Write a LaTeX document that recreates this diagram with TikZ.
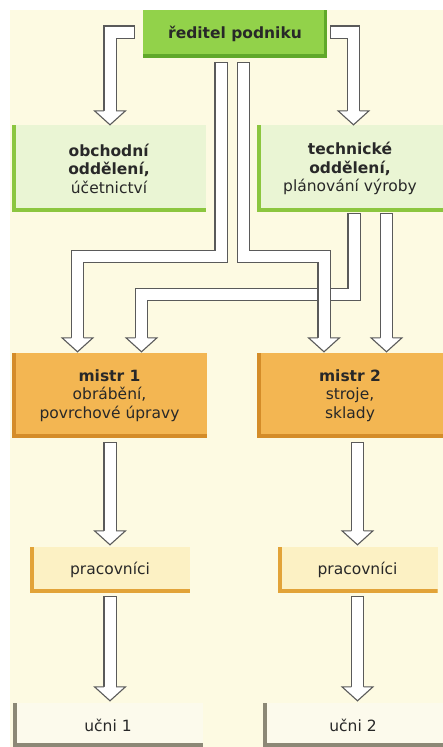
\documentclass[tikz,border=0pt]{standalone}
\usepackage{fontspec}
\setmainfont{DejaVu Sans}
\usetikzlibrary{calc}

\definecolor{paper}{RGB}{253,250,226}
\definecolor{ink}{RGB}{40,40,40}
\definecolor{arrowgray}{RGB}{90,90,90}
\definecolor{bossgreen}{RGB}{146,210,74}
\definecolor{bossshade}{RGB}{96,168,42}
\definecolor{deptfill}{RGB}{234,245,212}
\definecolor{deptbar}{RGB}{140,198,63}
\definecolor{masterfill}{RGB}{243,182,82}
\definecolor{masterbar}{RGB}{212,140,40}
\definecolor{crewfill}{RGB}{252,241,196}
\definecolor{crewbar}{RGB}{226,163,56}
\definecolor{traineefill}{RGB}{252,250,236}
\definecolor{traineebar}{RGB}{140,136,118}

\tikzset{bar/.style={path picture={
  \fill[#1] (path picture bounding box.north west) rectangle ([xshift=4pt]path picture bounding box.south west);
  \fill[#1] ([yshift=4.5pt]path picture bounding box.south west) rectangle (path picture bounding box.south east);}}}
\tikzstyle{unit} = [rectangle, inner sep=0pt, align=center, text=ink, font=\fontsize{15.5}{18.5}\selectfont]
\tikzstyle{chief} = [unit, fill=bossgreen, minimum width=184pt, minimum height=48pt, path picture={
  \fill[bossshade] ([yshift=4pt]path picture bounding box.south west) rectangle (path picture bounding box.south east);
  \fill[bossshade] ([xshift=-3pt]path picture bounding box.north east) rectangle (path picture bounding box.south east);}]
\tikzstyle{dept} = [unit, fill=deptfill, bar=deptbar, minimum height=87pt]
\tikzstyle{master} = [unit, fill=masterfill, bar=masterbar, minimum height=85pt]
\tikzstyle{crew} = [unit, fill=crewfill, bar=crewbar, minimum width=160pt, minimum height=46pt]
\tikzstyle{trainee} = [unit, fill=traineefill, bar=traineebar, minimum height=44pt]
\tikzstyle{shaft} = [draw=arrowgray, line width=1.1pt, double=white, double distance=11pt, line cap=rect, line join=miter]
\tikzset{hollowhead/.pic={
  \path[fill=white, draw=arrowgray, line width=1.1pt, line join=miter]
    (-6.05pt,0pt) -- (-15.5pt,0pt) -- (0pt,-14pt) -- (15.5pt,0pt) -- (6.05pt,0pt);}}

\begin{document}
\begin{tikzpicture}[x=1pt, y=1pt]

\useasboundingbox (0,0) rectangle (443,-747);
\fill[white] (0,0) rectangle (443,-747);
\fill[paper] (10,-10) rectangle (443,-747);

 \node (boss) [chief] at (235,-34) {\textbf{ředitel podniku}};
 \node (sales) [dept, minimum width=194pt] at (109,-168.5) {\textbf{obchodní}\\\textbf{oddělení,}\\účetnictví};
 \node (tech) [dept, minimum width=186pt] at (350,-168.5) {\textbf{technické}\\\textbf{oddělení,}\\plánování výroby};
 \node (m1) [master, minimum width=195pt] at (109.5,-395.5) {\textbf{mistr 1}\\obrábění,\\povrchové úpravy};
 \node (m2) [master, minimum width=186pt] at (350,-395.5) {\textbf{mistr 2}\\stroje,\\sklady};
 \node (w1) [crew] at (110,-570) {pracovníci};
 \node (w2) [crew] at (357.5,-570) {pracovníci};
 \node (a1) [trainee, minimum width=190pt] at (108,-725) {učni 1};
 \node (a2) [trainee, minimum width=180pt] at (353,-725) {učni 2};

% reditel -> oddeleni
\draw[shaft] ([xshift=-14.6pt,yshift=2pt]boss.west) -| ($(sales.north)+(1,14)$);
\draw[shaft] ([xshift=9.6pt,yshift=2pt]boss.east) -| ($(tech.north)+(3.5,14)$);
\pic at ($(sales.north)+(1,14)$) {hollowhead};
\pic at ($(tech.north)+(3.5,14)$) {hollowhead};

% reditel, technicke oddeleni -> mistri
\draw[shaft] ($(tech.south)+(4,-7.6)$) -- ++(0,-74.9) -| ($(m1.north)+(32,15)$);
\draw[shaft] ($(tech.south)+(36.5,-7.6)$) -- ($(m2.north)+(36.5,15)$);
\draw[shaft] ($(boss.south)+(-14,-10.6)$) -- ++(0,-187.9) -| ($(m1.north)+(-32,15)$);
\draw[shaft] ($(boss.south)+(8.5,-10.6)$) -- ++(0,-187.9) -| ($(m2.north)+(-26,15)$);
\pic at ($(m1.north)+(32,15)$) {hollowhead};
\pic at ($(m2.north)+(36.5,15)$) {hollowhead};
\pic at ($(m1.north)+(-32,15)$) {hollowhead};
\pic at ($(m2.north)+(-26,15)$) {hollowhead};

% mistri -> pracovnici -> ucni
\draw[shaft] ($(w1.north |- m1.south)+(0,-10.6)$) -- ($(w1.north)+(0,16)$);
\draw[shaft] ($(w2.north |- m2.south)+(0,-10.6)$) -- ($(w2.north)+(0,16)$);
\draw[shaft] ($(w1.south)+(0,-9.6)$) -- ($(w1.south |- a1.north)+(0,16)$);
\draw[shaft] ($(w2.south)+(0,-9.6)$) -- ($(w2.south |- a2.north)+(0,16)$);
\pic at ($(w1.north)+(0,16)$) {hollowhead};
\pic at ($(w2.north)+(0,16)$) {hollowhead};
\pic at ($(w1.south |- a1.north)+(0,16)$) {hollowhead};
\pic at ($(w2.south |- a2.north)+(0,16)$) {hollowhead};

\end{tikzpicture}
\end{document}
